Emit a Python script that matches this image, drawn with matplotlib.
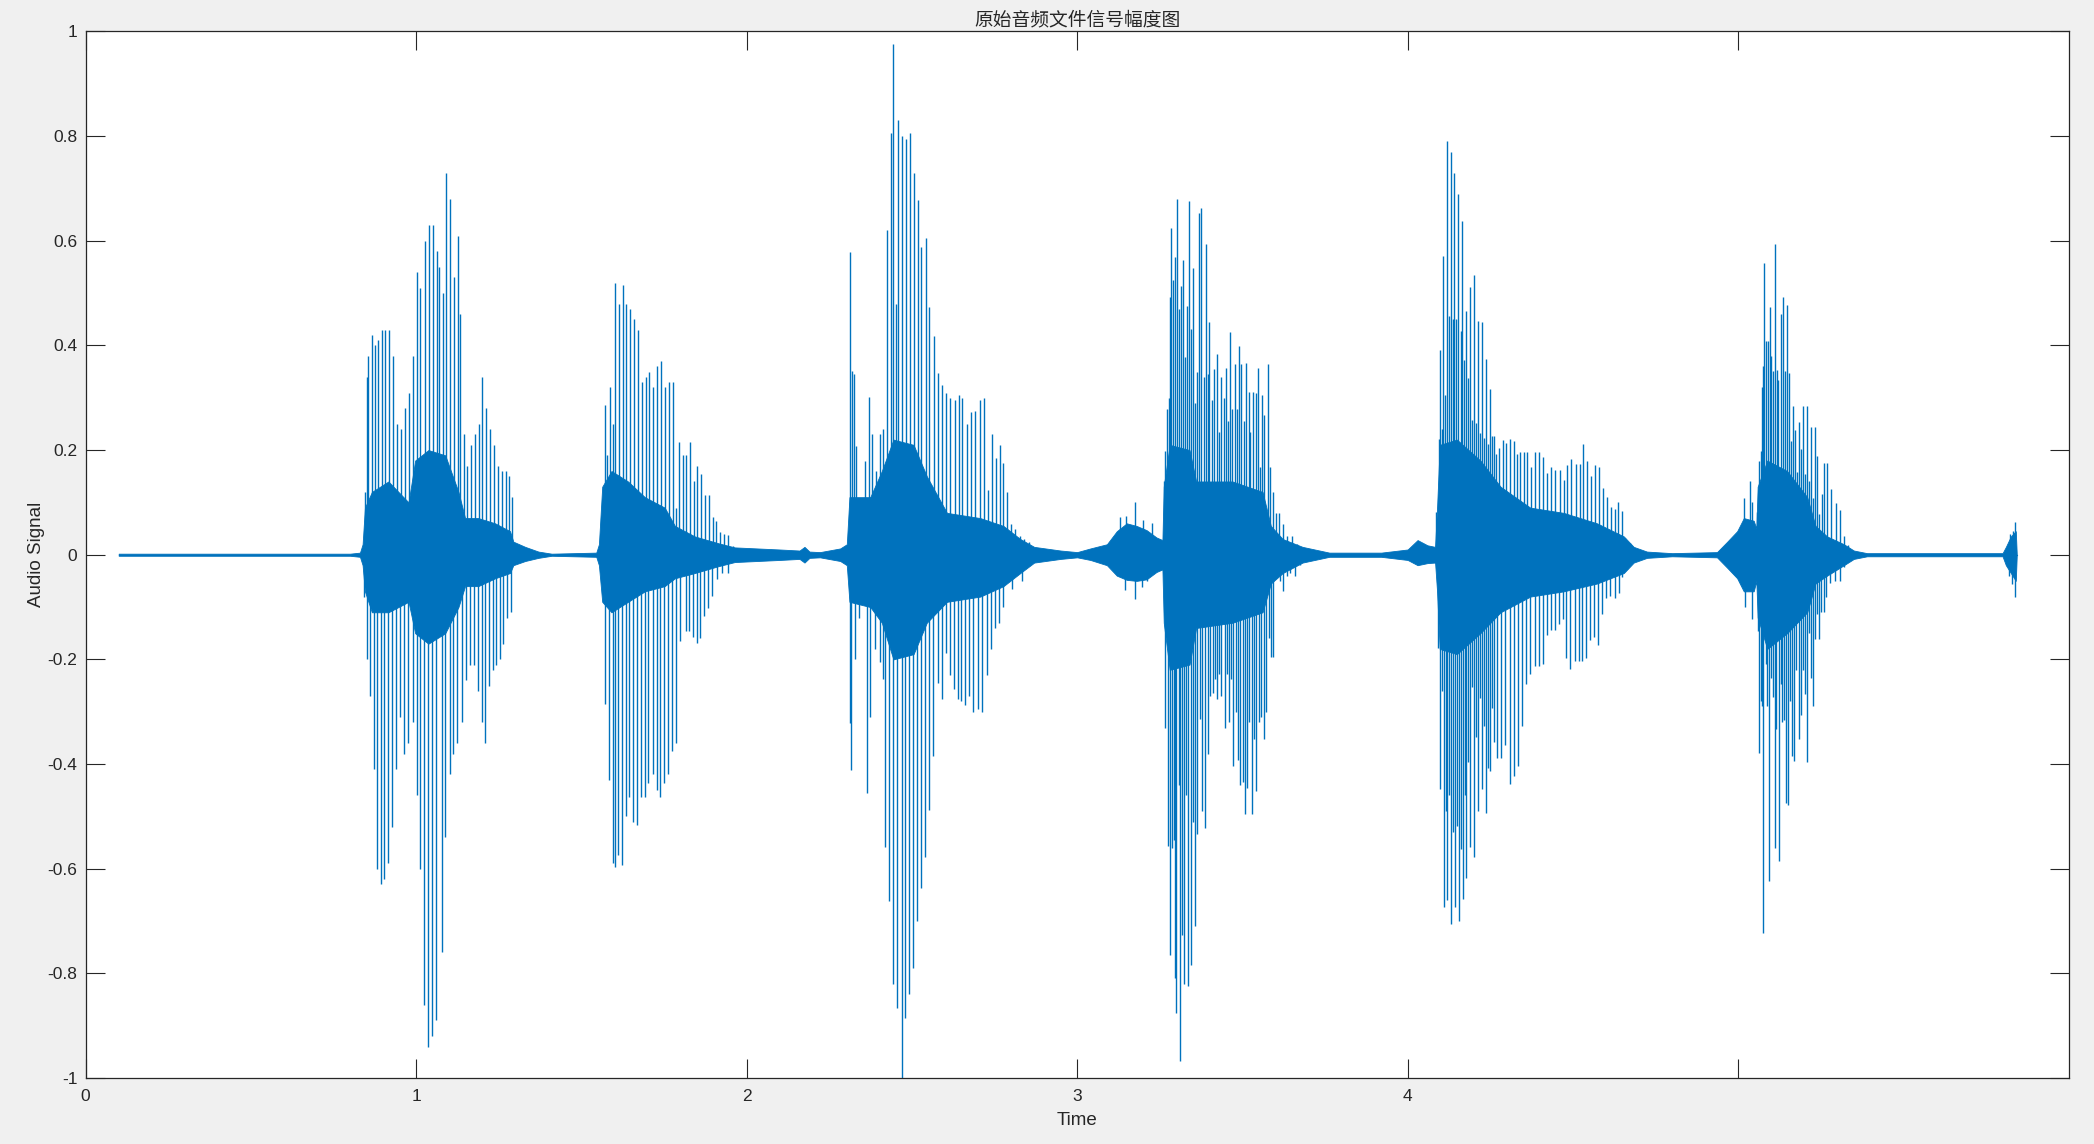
import matplotlib.pyplot as plt

plt.rcParams['font.family'] = ['Liberation Sans', 'Noto Sans CJK SC', 'DejaVu Sans']

# peaks of the waveform: (time in s, amplitude)
word1_pos = [(0.845, 0.12), (0.850, 0.34), (0.855, 0.38), (0.866, 0.42), (0.874, 0.40),
             (0.886, 0.41), (0.896, 0.43), (0.906, 0.43), (0.919, 0.43), (0.931, 0.38),
             (0.943, 0.25), (0.954, 0.24), (0.966, 0.28), (0.979, 0.31), (0.990, 0.38),
             (1.004, 0.54), (1.012, 0.51), (1.028, 0.60), (1.039, 0.63), (1.050, 0.63),
             (1.062, 0.58), (1.070, 0.55), (1.080, 0.50), (1.091, 0.73), (1.103, 0.68),
             (1.116, 0.53), (1.128, 0.61), (1.133, 0.46), (1.145, 0.23), (1.153, 0.17),
             (1.166, 0.21), (1.178, 0.23), (1.189, 0.25), (1.200, 0.34), (1.211, 0.28),
             (1.222, 0.24), (1.236, 0.21), (1.248, 0.17), (1.259, 0.16), (1.271, 0.16),
             (1.282, 0.15), (1.291, 0.11)]
word1_neg = [(0.842, -0.08), (0.850, -0.20), (0.860, -0.27), (0.871, -0.41), (0.881, -0.60),
             (0.893, -0.63), (0.904, -0.62), (0.916, -0.59), (0.928, -0.52), (0.939, -0.41),
             (0.951, -0.31), (0.964, -0.38), (0.976, -0.36), (0.989, -0.32), (1.002, -0.46),
             (1.013, -0.60), (1.025, -0.86), (1.037, -0.94), (1.048, -0.92), (1.059, -0.89),
             (1.077, -0.76), (1.087, -0.54), (1.101, -0.42), (1.113, -0.38), (1.125, -0.36),
             (1.140, -0.32), (1.151, -0.24), (1.163, -0.21), (1.176, -0.21), (1.188, -0.26),
             (1.198, -0.32), (1.209, -0.36), (1.221, -0.25), (1.232, -0.22), (1.242, -0.21),
             (1.254, -0.20), (1.264, -0.17), (1.274, -0.12), (1.286, -0.11)]

word2_pos = [(1.572, 0.286), (1.577, 0.19), (1.587, 0.32), (1.597, 0.25), (1.603, 0.52),
             (1.614, 0.48), (1.625, 0.515), (1.636, 0.48), (1.648, 0.47), (1.660, 0.45),
             (1.672, 0.43), (1.684, 0.33), (1.695, 0.34), (1.706, 0.35), (1.718, 0.32),
             (1.730, 0.36), (1.741, 0.37), (1.753, 0.32), (1.764, 0.33), (1.776, 0.33),
             (1.785, 0.09), (1.794, 0.215), (1.806, 0.19), (1.817, 0.19), (1.829, 0.215),
             (1.840, 0.14), (1.851, 0.17), (1.862, 0.155), (1.874, 0.115), (1.885, 0.115),
             (1.898, 0.072), (1.907, 0.064), (1.918, 0.044), (1.930, 0.04), (1.944, 0.037),
             (1.958, 0.016)]
word2_neg = [(1.572, -0.285), (1.585, -0.43), (1.595, -0.59), (1.601, -0.596), (1.612, -0.574),
             (1.622, -0.593), (1.634, -0.50), (1.645, -0.463), (1.657, -0.51), (1.669, -0.517),
             (1.681, -0.463), (1.693, -0.463), (1.703, -0.436), (1.716, -0.42), (1.728, -0.45),
             (1.739, -0.463), (1.750, -0.436), (1.762, -0.42), (1.774, -0.376), (1.787, -0.36),
             (1.799, -0.164), (1.815, -0.146), (1.827, -0.146), (1.839, -0.158), (1.849, -0.168),
             (1.859, -0.16), (1.871, -0.118), (1.883, -0.102), (1.896, -0.078), (1.910, -0.046),
             (1.924, -0.035), (1.944, -0.035)]

word3_pos = [(2.313, 0.578), (2.318, 0.351), (2.326, 0.345), (2.331, 0.207), (2.357, 0.18),
             (2.371, 0.302), (2.379, 0.23), (2.392, 0.16), (2.404, 0.23), (2.414, 0.24),
             (2.424, 0.62), (2.436, 0.806), (2.444, 0.976), (2.451, 0.48), (2.459, 0.831),
             (2.470, 0.80), (2.483, 0.795), (2.493, 0.806), (2.505, 0.729), (2.517, 0.678),
             (2.529, 0.588), (2.542, 0.606), (2.553, 0.473), (2.566, 0.418), (2.579, 0.348),
             (2.591, 0.325), (2.604, 0.31), (2.616, 0.30), (2.629, 0.295), (2.641, 0.305),
             (2.653, 0.30), (2.666, 0.249), (2.678, 0.273), (2.691, 0.275), (2.705, 0.295),
             (2.717, 0.30), (2.730, 0.123), (2.742, 0.23), (2.754, 0.184), (2.767, 0.21),
             (2.775, 0.175), (2.787, 0.12), (2.800, 0.058), (2.813, 0.05), (2.828, 0.035),
             (2.840, 0.03), (2.853, 0.025),
             (3.130, 0.073), (3.149, 0.074), (3.174, 0.101), (3.199, 0.067), (3.226, 0.06)]
word3_neg = [(2.313, -0.322), (2.315, -0.411), (2.328, -0.20), (2.341, -0.12), (2.364, -0.456),
             (2.374, -0.31), (2.389, -0.18), (2.402, -0.205), (2.412, -0.237), (2.420, -0.558),
             (2.432, -0.661), (2.444, -0.821), (2.456, -0.866), (2.469, -1.0), (2.480, -0.885),
             (2.492, -0.84), (2.503, -0.789), (2.515, -0.70), (2.527, -0.636), (2.540, -0.578),
             (2.553, -0.488), (2.565, -0.385), (2.578, -0.245), (2.590, -0.275), (2.602, -0.187),
             (2.614, -0.23), (2.626, -0.256), (2.638, -0.275), (2.650, -0.28), (2.662, -0.288),
             (2.674, -0.27), (2.686, -0.30), (2.699, -0.295), (2.712, -0.30), (2.727, -0.23),
             (2.739, -0.18), (2.751, -0.14), (2.763, -0.13), (2.775, -0.10), (2.787, -0.05),
             (2.802, -0.065), (2.818, -0.035), (2.833, -0.05),
             (3.146, -0.067), (3.174, -0.085), (3.196, -0.061), (3.211, -0.05)]

word4_pos = [(3.262, 0.141), (3.267, 0.199), (3.272, 0.278), (3.277, 0.30), (3.282, 0.492),
             (3.285, 0.624), (3.290, 0.525), (3.297, 0.569), (3.302, 0.679), (3.308, 0.47),
             (3.314, 0.514), (3.320, 0.564), (3.327, 0.377), (3.332, 0.476), (3.339, 0.676),
             (3.344, 0.432), (3.350, 0.547), (3.357, 0.29), (3.363, 0.35), (3.369, 0.654),
             (3.376, 0.663), (3.383, 0.34), (3.389, 0.594), (3.395, 0.345), (3.400, 0.445),
             (3.408, 0.295), (3.413, 0.355), (3.423, 0.383), (3.430, 0.235), (3.436, 0.34),
             (3.443, 0.30), (3.450, 0.357), (3.456, 0.256), (3.463, 0.426), (3.470, 0.278),
             (3.477, 0.365), (3.484, 0.278), (3.489, 0.399), (3.497, 0.365), (3.505, 0.256),
             (3.511, 0.367), (3.519, 0.311), (3.524, 0.235), (3.532, 0.311), (3.542, 0.31),
             (3.546, 0.357), (3.554, 0.168), (3.559, 0.306), (3.566, 0.267), (3.576, 0.364),
             (3.584, 0.168), (3.594, 0.119), (3.603, 0.08), (3.610, 0.08), (3.623, 0.058),
             (3.635, 0.036), (3.650, 0.036), (3.665, 0.02)]
word4_neg = [(3.265, -0.331), (3.270, -0.123), (3.275, -0.556), (3.280, -0.765), (3.286, -0.56),
             (3.292, -0.545), (3.295, -0.809), (3.300, -0.875), (3.307, -0.44), (3.312, -0.968),
             (3.318, -0.726), (3.324, -0.82), (3.330, -0.46), (3.336, -0.825), (3.344, -0.785),
             (3.350, -0.51), (3.357, -0.71), (3.364, -0.534), (3.371, -0.314), (3.378, -0.49),
             (3.388, -0.523), (3.395, -0.38), (3.403, -0.27), (3.410, -0.265), (3.416, -0.238),
             (3.423, -0.276), (3.428, -0.227), (3.435, -0.27), (3.441, -0.117), (3.448, -0.331),
             (3.454, -0.227), (3.460, -0.32), (3.467, -0.238), (3.473, -0.403), (3.481, -0.30),
             (3.487, -0.392), (3.494, -0.441), (3.501, -0.435), (3.507, -0.496), (3.514, -0.446),
             (3.521, -0.32), (3.529, -0.496), (3.536, -0.353), (3.542, -0.452), (3.549, -0.32),
             (3.557, -0.31), (3.564, -0.353), (3.572, -0.30), (3.579, -0.16), (3.586, -0.195),
             (3.592, -0.195), (3.605, -0.04), (3.615, -0.05), (3.623, -0.07), (3.635, -0.04),
             (3.645, -0.035), (3.660, -0.04), (3.675, -0.02)]

word5_pos = [(4.087, 0.082), (4.094, 0.222), (4.099, 0.392), (4.103, 0.24), (4.108, 0.57),
             (4.113, 0.306), (4.119, 0.79), (4.124, 0.457), (4.130, 0.77), (4.136, 0.45),
             (4.141, 0.73), (4.147, 0.45), (4.153, 0.69), (4.160, 0.427), (4.165, 0.637),
             (4.171, 0.372), (4.176, 0.466), (4.182, 0.337), (4.188, 0.512), (4.194, 0.257),
             (4.200, 0.535), (4.206, 0.252), (4.212, 0.447), (4.218, 0.232), (4.224, 0.444),
             (4.230, 0.224), (4.236, 0.374), (4.242, 0.212), (4.248, 0.317), (4.254, 0.227),
             (4.260, 0.227), (4.266, 0.192), (4.276, 0.204), (4.288, 0.22), (4.299, 0.214),
             (4.309, 0.222), (4.321, 0.217), (4.331, 0.192), (4.341, 0.197), (4.351, 0.197),
             (4.361, 0.197), (4.373, 0.168), (4.384, 0.197), (4.398, 0.197), (4.410, 0.187),
             (4.422, 0.157), (4.434, 0.168), (4.447, 0.162), (4.460, 0.162), (4.472, 0.142),
             (4.482, 0.171), (4.494, 0.182), (4.508, 0.174), (4.520, 0.174), (4.532, 0.212),
             (4.544, 0.18), (4.556, 0.15), (4.568, 0.172), (4.580, 0.167), (4.591, 0.127),
             (4.603, 0.11), (4.614, 0.092), (4.626, 0.087), (4.637, 0.10), (4.648, 0.084),
             (4.659, 0.032), (4.672, 0.022)]
word5_neg = [(4.091, -0.178), (4.097, -0.448), (4.104, -0.26), (4.109, -0.673), (4.115, -0.49),
             (4.120, -0.66), (4.126, -0.46), (4.131, -0.706), (4.137, -0.529), (4.143, -0.673),
             (4.149, -0.519), (4.155, -0.70), (4.161, -0.563), (4.166, -0.657), (4.172, -0.46),
             (4.178, -0.618), (4.184, -0.397), (4.190, -0.558), (4.196, -0.253), (4.202, -0.578),
             (4.208, -0.348), (4.214, -0.49), (4.220, -0.273), (4.226, -0.448), (4.232, -0.328),
             (4.238, -0.494), (4.244, -0.408), (4.250, -0.413), (4.256, -0.293), (4.262, -0.358),
             (4.270, -0.388), (4.283, -0.388), (4.295, -0.363), (4.309, -0.438), (4.321, -0.423),
             (4.333, -0.403), (4.346, -0.328), (4.358, -0.248), (4.371, -0.228), (4.384, -0.213),
             (4.396, -0.213), (4.408, -0.208), (4.422, -0.153), (4.434, -0.143), (4.446, -0.143),
             (4.458, -0.133), (4.470, -0.123), (4.480, -0.198), (4.492, -0.218), (4.505, -0.203),
             (4.517, -0.203), (4.529, -0.203), (4.541, -0.198), (4.553, -0.163), (4.565, -0.158),
             (4.577, -0.173), (4.589, -0.113), (4.601, -0.083), (4.613, -0.078), (4.626, -0.083),
             (4.638, -0.073), (4.650, -0.043), (4.664, -0.028)]

word6_pos = [(5.017, 0.108), (5.035, 0.14), (5.042, 0.10),
             (5.057, 0.081), (5.062, 0.18), (5.068, 0.198), (5.072, 0.32), (5.076, 0.361),
             (5.079, 0.558), (5.084, 0.408), (5.090, 0.408), (5.095, 0.474), (5.100, 0.379),
             (5.106, 0.352), (5.111, 0.594), (5.117, 0.353), (5.122, 0.334), (5.129, 0.46),
             (5.135, 0.492), (5.141, 0.352), (5.147, 0.478), (5.153, 0.347), (5.159, 0.217),
             (5.165, 0.284), (5.172, 0.239), (5.178, 0.159), (5.185, 0.253), (5.191, 0.203),
             (5.197, 0.284), (5.203, 0.154), (5.209, 0.284), (5.215, 0.141), (5.221, 0.244),
             (5.227, 0.108), (5.233, 0.244), (5.239, 0.189), (5.246, 0.077), (5.253, 0.117),
             (5.259, 0.175), (5.270, 0.175), (5.282, 0.126), (5.295, 0.099), (5.308, 0.086),
             (5.320, 0.036), (5.331, 0.018),
             (5.824, 0.04), (5.832, 0.045), (5.838, 0.062)]
word6_neg = [(5.022, -0.10), (5.042, -0.122),
             (5.059, -0.145), (5.064, -0.379), (5.068, -0.28), (5.072, -0.289), (5.076, -0.722),
             (5.083, -0.208), (5.088, -0.289), (5.093, -0.623), (5.099, -0.235), (5.104, -0.271),
             (5.110, -0.56), (5.115, -0.333), (5.125, -0.585), (5.130, -0.248), (5.134, -0.32),
             (5.140, -0.315), (5.145, -0.474), (5.151, -0.478), (5.157, -0.28), (5.163, -0.384),
             (5.169, -0.395), (5.176, -0.221), (5.183, -0.352), (5.189, -0.307), (5.196, -0.221),
             (5.202, -0.266), (5.207, -0.397), (5.213, -0.149), (5.219, -0.235), (5.226, -0.289),
             (5.233, -0.162), (5.239, -0.113), (5.246, -0.161), (5.252, -0.109), (5.259, -0.109),
             (5.265, -0.081), (5.279, -0.054), (5.292, -0.05), (5.308, -0.05), (5.320, -0.024),
             (5.819, -0.04), (5.829, -0.055), (5.839, -0.081)]

# dense part of the signal: (time, upper edge, lower edge)
core_env = [(0.10, 0.002, -0.002), (0.80, 0.002, -0.002), (0.830, 0.004, -0.004),
            (0.838, 0.02, -0.02), (0.845, 0.09, -0.07), (0.866, 0.12, -0.11),
            (0.916, 0.14, -0.11), (0.977, 0.10, -0.09), (0.997, 0.18, -0.15),
            (1.037, 0.20, -0.17), (1.088, 0.19, -0.15), (1.128, 0.12, -0.10),
            (1.148, 0.07, -0.06), (1.188, 0.07, -0.06), (1.239, 0.06, -0.045),
            (1.284, 0.045, -0.035), (1.294, 0.025, -0.02), (1.330, 0.015, -0.012),
            (1.370, 0.006, -0.006), (1.410, 0.002, -0.002), (1.545, 0.004, -0.004),
            (1.553, 0.02, -0.02), (1.563, 0.13, -0.09), (1.591, 0.16, -0.11),
            (1.641, 0.14, -0.09), (1.692, 0.11, -0.07), (1.752, 0.09, -0.06),
            (1.783, 0.055, -0.045), (1.843, 0.035, -0.035), (1.914, 0.022, -0.022),
            (1.964, 0.014, -0.014), (2.100, 0.01, -0.01), (2.160, 0.008, -0.008),
            (2.175, 0.015, -0.015), (2.190, 0.006, -0.006), (2.222, 0.005, -0.005),
            (2.283, 0.012, -0.012), (2.303, 0.02, -0.02), (2.311, 0.11, -0.09),
            (2.374, 0.11, -0.10), (2.409, 0.16, -0.13), (2.444, 0.22, -0.20),
            (2.505, 0.21, -0.19), (2.545, 0.15, -0.13), (2.606, 0.08, -0.09),
            (2.707, 0.07, -0.08), (2.777, 0.055, -0.06), (2.828, 0.03, -0.035),
            (2.870, 0.015, -0.015), (2.950, 0.008, -0.008), (3.000, 0.005, -0.005),
            (3.040, 0.012, -0.010), (3.090, 0.020, -0.020), (3.120, 0.045, -0.040),
            (3.150, 0.060, -0.048), (3.180, 0.055, -0.050), (3.210, 0.047, -0.047),
            (3.240, 0.033, -0.033), (3.258, 0.028, -0.028), (3.262, 0.13, -0.13),
            (3.280, 0.21, -0.22), (3.340, 0.20, -0.21), (3.360, 0.14, -0.14),
            (3.470, 0.14, -0.13), (3.561, 0.12, -0.11), (3.586, 0.055, -0.055),
            (3.622, 0.03, -0.035), (3.682, 0.015, -0.015), (3.763, 0.004, -0.004),
            (3.920, 0.004, -0.004), (4.000, 0.010, -0.010), (4.030, 0.028, -0.020),
            (4.060, 0.018, -0.016), (4.083, 0.015, -0.015), (4.089, 0.09, -0.07),
            (4.097, 0.21, -0.18), (4.149, 0.22, -0.19), (4.220, 0.18, -0.15),
            (4.281, 0.13, -0.11), (4.371, 0.09, -0.08), (4.472, 0.08, -0.07),
            (4.573, 0.06, -0.055), (4.654, 0.035, -0.035), (4.684, 0.015, -0.015),
            (4.724, 0.006, -0.006), (4.800, 0.003, -0.003), (4.936, 0.005, -0.005),
            (4.967, 0.025, -0.025), (4.997, 0.045, -0.045), (5.017, 0.07, -0.07),
            (5.047, 0.065, -0.07), (5.055, 0.05, -0.05), (5.059, 0.13, -0.12),
            (5.088, 0.18, -0.18), (5.148, 0.16, -0.15), (5.209, 0.11, -0.11),
            (5.234, 0.055, -0.055), (5.269, 0.035, -0.04), (5.320, 0.02, -0.02),
            (5.350, 0.008, -0.008), (5.390, 0.003, -0.003), (5.800, 0.003, -0.003),
            (5.810, 0.015, -0.02), (5.825, 0.035, -0.035), (5.840, 0.045, -0.05),
            (5.843, 0.0, 0.0)]

signal_span = (0.10, 5.843)

x_ticks = [0, 1, 2, 3, 4, 5]
x_labels = ['0', '1', '2', '3', '4', '']
y_ticks = [-1, -0.8, -0.6, -0.4, -0.2, 0, 0.2, 0.4, 0.6, 0.8, 1]
y_labels = ['-1', '-0.8', '-0.6', '-0.4', '-0.2', '0', '0.2', '0.4', '0.6', '0.8', '1']

LINE = '#0072BD'
DARK = '#262626'


def main():
    fig = plt.figure(figsize=(20.94, 11.44), dpi=100, facecolor='#F0F0F0')
    ax = fig.add_axes([0.0409, 0.0577, 0.9470, 0.9148])
    ax.set_facecolor('white')

    # thin zero line of the quiet parts
    ax.plot(signal_span, [0, 0], color=LINE, lw=0.8)

    t_env = [p[0] for p in core_env]
    ax.fill_between(t_env, [p[2] for p in core_env], [p[1] for p in core_env],
                    color=LINE, lw=0.6, edgecolor=LINE)

    pos = word1_pos + word2_pos + word3_pos + word4_pos + word5_pos + word6_pos
    neg = word1_neg + word2_neg + word3_neg + word4_neg + word5_neg + word6_neg
    ax.vlines([p[0] for p in pos], 0, [p[1] for p in pos], color=LINE, lw=1.0)
    ax.vlines([p[0] for p in neg], [p[1] for p in neg], 0, color=LINE, lw=1.0)

    ax.set_xlim(0, 6)
    ax.set_ylim(-1, 1)
    ax.set_xticks(x_ticks)
    ax.set_xticklabels(x_labels)
    ax.set_yticks(y_ticks)
    ax.set_yticklabels(y_labels)
    ax.tick_params(direction='in', length=14, width=0.8, color=DARK,
                   labelcolor=DARK, labelsize=12.5, top=True, right=True)
    ax.tick_params(axis='x', pad=8)
    ax.tick_params(axis='y', pad=6)
    for s in ax.spines.values():
        s.set_color(DARK)
        s.set_linewidth(0.9)

    ax.set_xlabel('Time', fontsize=13.5, color=DARK, labelpad=6)
    ax.set_ylabel('Audio Signal', fontsize=13.5, color=DARK, labelpad=2)
    ax.set_title('原始音频文件信号幅度图', fontsize=13.5, color=DARK, pad=4,
                 family=['Noto Sans CJK SC', 'DejaVu Sans'])

    fig.savefig('out.png', dpi=100, facecolor=fig.get_facecolor())


if __name__ == '__main__':
    main()
